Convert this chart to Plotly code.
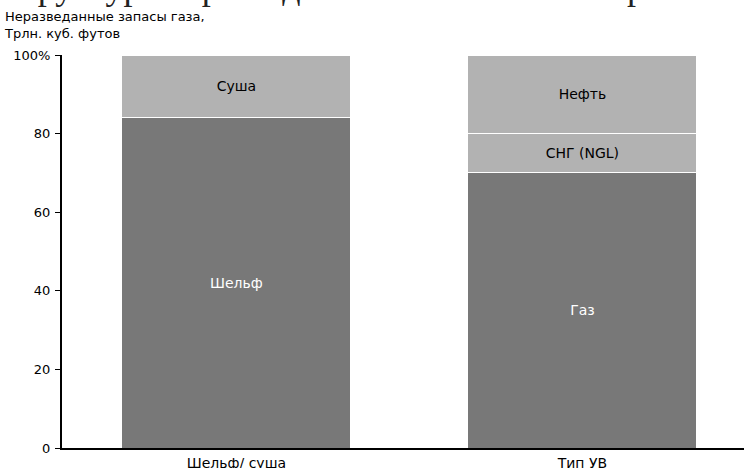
import plotly.graph_objects as go

# Категории столбцов
categories = ["Шельф/ суша", "Тип УВ"]

# Доли сегментов, % (снизу вверх)
bottom_vals = [84, 70]
bottom_labels = ["Шельф", "Газ"]
middle_vals = [0, 10]
middle_labels = ["", "СНГ (NGL)"]
top_vals = [16, 20]
top_labels = ["Суша", "Нефть"]

y_ticks = [0, 20, 40, 60, 80, 100]
y_ticktext = ["0", "20", "40", "60", "80", "100%"]

DARK = "#787878"
LIGHT = "#b2b2b2"
FONT = "DejaVu Sans"

W, H = 744, 468
ML, MR, MT, MB = 62, 0, 55, 20
PW, PH = W - ML - MR, H - MT - MB

fig = go.Figure()

def add_layer(vals, labels, color, text_color):
    fig.add_trace(go.Bar(
        x=categories, y=vals, text=labels,
        textposition="inside", insidetextanchor="middle", textangle=0,
        insidetextfont=dict(family=FONT, size=14, color=text_color),
        marker=dict(color=color, line=dict(color="white", width=1)),
        width=0.662, hoverinfo="skip", showlegend=False,
    ))

add_layer(bottom_vals, bottom_labels, DARK, "white")
add_layer(middle_vals, middle_labels, LIGHT, "black")
add_layer(top_vals, top_labels, LIGHT, "black")

fig.update_layout(
    width=W, height=H,
    margin=dict(l=ML, r=MR, t=MT, b=MB, pad=0, autoexpand=False),
    barmode="stack",
    paper_bgcolor="white", plot_bgcolor="white",
    font=dict(family=FONT, size=13, color="black"),
    uniformtext=dict(minsize=14, mode="show"),
    xaxis=dict(
        range=[-0.504, 1.467], showgrid=False, zeroline=False,
        showline=True, linecolor="black", linewidth=2,
        ticks="", tickfont=dict(family=FONT, size=14),
        ticklabelstandoff=1, automargin=False,
    ),
    yaxis=dict(
        range=[0, 100], showgrid=False, zeroline=False,
        showline=True, linecolor="black", linewidth=2,
        ticks="outside", ticklen=5, tickwidth=1, tickcolor="black",
        tickvals=y_ticks, ticktext=y_ticktext,
        tickfont=dict(family=FONT, size=13),
        ticklabelstandoff=2, automargin=False,
    ),
)

# Подпись оси Y над графиком
fig.add_annotation(
    text="Неразведанные запасы газа,<br>Трлн. куб. футов",
    xref="paper", yref="paper",
    x=-(ML - 2) / PW, xanchor="left",
    y=1 + (MT - 7) / PH, yanchor="top",
    align="left", showarrow=False,
    font=dict(family=FONT, size=13, color="black"),
)

# Заголовок страницы, уходящий за верхний край
fig.add_annotation(
    text="Структура неразведанных запасов газа Арктики по условиям залегания и типу",
    xref="paper", yref="paper",
    x=-(ML + 4) / PW, xanchor="left",
    y=1 + (MT - 9) / PH, yanchor="bottom",
    showarrow=False,
    font=dict(family="Liberation Serif", size=36, color="#222222"),
)

fig.write_html("out.html")
